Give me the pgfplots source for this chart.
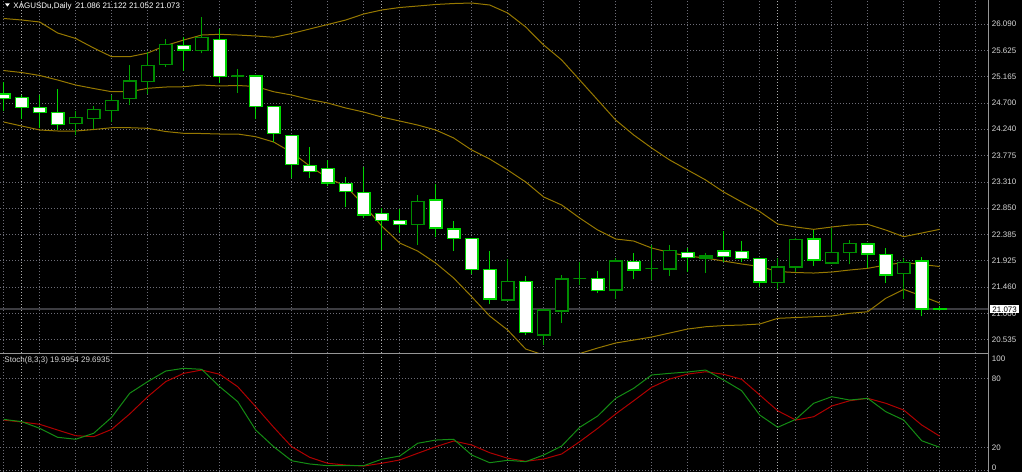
\documentclass[border=0pt]{standalone}
\usepackage{fontspec}
\setmainfont{Liberation Sans}
\usepackage{pgfplots}
\usepackage{pgfplotstable}
\pgfplotsset{compat=1.18}
\definecolor{bullc}{RGB}{0,140,0}
\definecolor{bearc}{RGB}{0,215,0}
\definecolor{wickc}{RGB}{0,165,0}
\definecolor{bandc}{RGB}{150,120,0}
\definecolor{gridc}{RGB}{110,110,120}
\definecolor{sepc}{RGB}{175,175,175}
\definecolor{panelsep}{RGB}{150,150,150}
\definecolor{scalec}{RGB}{150,150,150}
\definecolor{labc}{RGB}{215,215,215}
\definecolor{stochmain}{RGB}{20,140,20}
\definecolor{stochsig}{RGB}{175,0,0}
\definecolor{curline}{RGB}{60,60,65}

\pgfplotstableread{
i O H L C
0 24.858 25.074 24.564 24.779
1 24.793 24.840 24.413 24.624
2 24.626 24.840 24.254 24.527
3 24.536 24.941 24.225 24.321
4 24.339 24.559 24.128 24.448
5 24.427 24.647 24.237 24.589
6 24.571 24.840 24.371 24.749
7 24.779 25.368 24.664 25.087
8 25.074 25.602 24.853 25.356
9 25.381 25.820 25.338 25.733
10 25.715 25.866 25.268 25.632
11 25.620 26.208 25.574 25.856
12 25.820 25.996 25.046 25.162
13 25.175 25.293 24.881 25.175
14 25.175 25.175 24.413 24.635
15 24.642 24.642 24.019 24.167
16 24.131 24.137 23.375 23.614
17 23.603 23.931 23.375 23.491
18 23.547 23.697 23.239 23.292
19 23.287 23.392 22.864 23.146
20 23.128 23.568 22.671 22.729
21 22.759 22.847 22.113 22.629
22 22.629 22.829 22.407 22.558
23 22.558 23.081 22.201 22.963
24 22.993 23.274 22.336 22.500
25 22.482 22.629 22.101 22.319
26 22.319 22.319 21.691 21.773
27 21.773 22.095 21.163 21.251
28 21.233 21.949 21.233 21.555
29 21.555 21.656 20.617 20.665
30 20.617 21.057 20.441 21.057
31 21.040 21.673 20.834 21.603
32 21.615 21.897 21.497 21.615
33 21.615 21.743 21.362 21.404
34 21.409 21.978 21.251 21.919
35 21.911 22.065 21.597 21.761
36 21.791 22.201 21.585 21.791
37 21.779 22.201 21.661 22.101
38 22.072 22.153 21.731 21.985
39 21.972 22.065 21.714 22.007
40 22.095 22.447 21.907 21.995
41 22.090 22.271 21.902 21.960
42 21.967 21.967 21.467 21.550
43 21.538 21.967 21.421 21.814
44 21.814 22.319 21.731 22.294
45 22.307 22.465 21.837 21.937
46 21.884 22.505 21.884 22.072
47 22.072 22.289 21.861 22.224
48 22.219 22.219 21.791 22.043
49 22.037 22.143 21.538 21.673
50 21.696 21.978 21.251 21.897
51 21.919 21.995 20.957 21.075
52 21.086 21.122 21.052 21.073
}\candles

\pgfplotstableread{
i U M L
0 26.187 25.271 24.365
1 26.160 25.236 24.295
2 26.125 25.184 24.225
3 25.931 25.104 24.207
4 25.835 25.016 24.207
5 25.667 24.955 24.233
6 25.514 24.898 24.265
7 25.514 24.898 24.265
8 25.579 24.958 24.254
9 25.711 24.981 24.198
10 25.808 24.986 24.166
11 25.896 25.016 24.163
12 25.908 24.999 24.154
13 25.896 25.008 24.154
14 25.879 24.990 24.107
15 25.856 24.898 24.013
16 25.923 24.840 23.829
17 26.002 24.761 23.591
18 26.081 24.700 23.380
19 26.160 24.612 23.239
20 26.266 24.541 22.905
21 26.336 24.453 22.535
22 26.380 24.383 22.236
23 26.406 24.312 22.095
24 26.433 24.225 21.884
25 26.450 24.084 21.620
26 26.459 23.873 21.291
27 26.424 23.714 20.952
28 26.283 23.521 20.705
29 26.037 23.310 20.371
30 25.720 23.046 20.265
31 25.456 22.905 20.230
32 25.104 22.676 20.292
33 24.752 22.465 20.389
34 24.400 22.307 20.477
35 24.137 22.271 20.529
36 23.908 22.148 20.582
37 23.697 22.069 20.653
38 23.521 22.007 20.723
39 23.345 21.972 20.763
40 23.134 21.919 20.784
41 22.958 21.867 20.793
42 22.790 21.823 20.811
43 22.570 21.735 20.911
44 22.518 21.717 20.925
45 22.477 21.708 20.939
46 22.518 21.726 20.952
47 22.553 21.761 20.999
48 22.565 21.791 21.027
49 22.465 21.849 21.263
50 22.347 21.893 21.421
51 22.412 21.858 21.304
52 22.477 21.823 21.180
}\bands

\pgfplotstableread{
i K D
0 44.3 43.7
1 42.3 42.0
2 36.5 40.0
3 28.7 35.0
4 27.0 30.1
5 32.2 29.2
6 46.1 35.6
7 67.0 49.0
8 77.1 64.0
9 86.3 77.1
10 88.7 84.3
11 87.8 87.2
12 72.7 83.5
13 59.7 72.7
14 35.0 55.3
15 20.5 37.4
16 8.3 20.5
17 5.5 11.3
18 4.0 6.1
19 4.0 4.6
20 4.0 3.7
21 9.6 6.1
22 12.4 9.0
23 23.5 14.8
24 26.3 20.5
25 27.0 25.5
26 13.3 22.0
27 6.6 15.3
28 8.7 10.5
29 7.5 7.8
30 13.3 9.8
31 21.1 14.2
32 37.4 24.9
33 47.2 36.5
34 62.6 49.0
35 71.3 60.5
36 82.9 72.2
37 84.3 79.4
38 85.5 83.7
39 87.2 85.7
40 78.5 83.5
41 69.2 79.1
42 48.1 65.5
43 37.4 51.8
44 44.3 43.7
45 58.3 46.6
46 64.0 55.9
47 61.1 60.5
48 62.6 62.6
49 51.0 58.3
50 43.7 52.4
51 25.7 39.4
52 20.0 29.7
}\stoch

\pgfplotsset{
  mtaxis/.style={
    scale only axis, width=988.3bp, clip=true,
    xmin=-0.2056, xmax=54.7,
    axis line style={draw=none}, tick style={draw=none},
    xtick={0,2,...,54}, xticklabels={},
    extra x ticks={1,21,43}, extra x tick labels={},
    extra x tick style={xmajorgrids=true, major grid style={sepc, dash pattern=on 1bp off 2bp, line width=0.8bp}},
    xmajorgrids=true, ymajorgrids=true,
    major grid style={gridc, dash pattern=on 1bp off 2bp, line width=0.8bp},
    ticklabel style={font=\fontsize{8}{9}\selectfont, text=labc},
  }
}

\begin{document}
\begin{tikzpicture}
\useasboundingbox (0bp,0bp) rectangle (1022bp,-472bp);
\fill[black] (0bp,0bp) rectangle (1022bp,-472bp);

\begin{axis}[mtaxis, at={(0bp,0bp)}, anchor=north west, height=353bp,
  ymin=20.301, ymax=26.512,
  ytick={20.535,21.000,21.460,21.925,22.385,22.850,23.310,23.775,24.240,24.700,25.165,25.625,26.090},
  yticklabels={20.535,21.000,21.460,21.925,22.385,22.850,23.310,23.775,24.240,24.700,25.165,25.625,26.090},
  yticklabel pos=right,
  yticklabel style={anchor=west, inner sep=0pt, xshift=3.4bp},
]
\addplot[curline, line width=2bp] coordinates {(-0.2056,21.073) (54.7,21.073)};
\addplot[bandc, line width=1bp] table[x=i, y=U] {\bands};
\addplot[bandc, line width=1bp] table[x=i, y=M] {\bands};
\addplot[bandc, line width=1bp] table[x=i, y=L] {\bands};
\pgfplotsinvokeforeach{0,...,52}{
  \pgfplotstablegetelem{#1}{O}\of\candles \let\cO\pgfplotsretval
  \pgfplotstablegetelem{#1}{H}\of\candles \let\cH\pgfplotsretval
  \pgfplotstablegetelem{#1}{L}\of\candles \let\cL\pgfplotsretval
  \pgfplotstablegetelem{#1}{C}\of\candles \let\cC\pgfplotsretval
  \pgfmathsetmacro{\xl}{#1-0.35}
  \pgfmathsetmacro{\xr}{#1+0.35}
  \pgfmathtruncatemacro{\isbear}{\cC<\cO ? 1 : 0}
  \ifnum\isbear=1
    \addplot[draw=bearc, line width=1.3bp] coordinates {(#1,\cL) (#1,\cH)};
    \addplot[draw=bearc, fill=white, line width=1.3bp] coordinates {(\xl,\cO) (\xr,\cO) (\xr,\cC) (\xl,\cC)} -- cycle;
  \else
    \addplot[draw=wickc, line width=1.3bp] coordinates {(#1,\cL) (#1,\cH)};
    \addplot[draw=bullc, fill=black, line width=1.3bp] coordinates {(\xl,\cO) (\xr,\cO) (\xr,\cC) (\xl,\cC)} -- cycle;
  \fi
}
\end{axis}

\begin{axis}[mtaxis, at={(0bp,-355bp)}, anchor=north west, height=117bp,
  ymin=-1.48, ymax=100.26,
  ytick={0,20,80}, yticklabels={},
]
\addplot[stochsig, line width=1bp] table[x=i, y=D] {\stoch};
\addplot[stochmain, line width=1bp] table[x=i, y=K] {\stoch};
\end{axis}

\draw[panelsep, line width=1.6bp] (0bp,-353.4bp) -- (988.3bp,-353.4bp);
\draw[scalec, line width=1.2bp] (988.3bp,0bp) -- (988.3bp,-472bp);

\fill[white] (5bp,-3.4bp) -- (9.8bp,-3.4bp) -- (7.4bp,-6.6bp) -- cycle;
\node[anchor=base west, inner sep=0pt, text=white, font=\fontsize{8}{9}\selectfont] at (13.3bp,-8.3bp) {XAGUSDu,Daily\ \ 21.086 21.122 21.052 21.073};
\node[anchor=base west, inner sep=0pt, text=labc, font=\fontsize{8}{9}\selectfont] at (4.3bp,-362.6bp) {Stoch(8,3,3) 19.9954 29.6935};

\node[anchor=west, inner sep=0pt, text=labc, font=\fontsize{8}{9}\selectfont] at (991.7bp,-358.6bp) {100};
\node[anchor=west, inner sep=0pt, text=labc, font=\fontsize{8}{9}\selectfont] at (991.7bp,-378.3bp) {80};
\node[anchor=west, inner sep=0pt, text=labc, font=\fontsize{8}{9}\selectfont] at (991.7bp,-447.3bp) {20};
\node[anchor=west, inner sep=0pt, text=labc, font=\fontsize{8}{9}\selectfont] at (991.7bp,-467.3bp) {0};

\node[fill=white, text=black, inner sep=0pt, minimum width=28.5bp, minimum height=8bp, font=\fontsize{8}{9}\selectfont] at (1004.6bp,-309.4bp) {21.073};
\end{tikzpicture}
\end{document}
